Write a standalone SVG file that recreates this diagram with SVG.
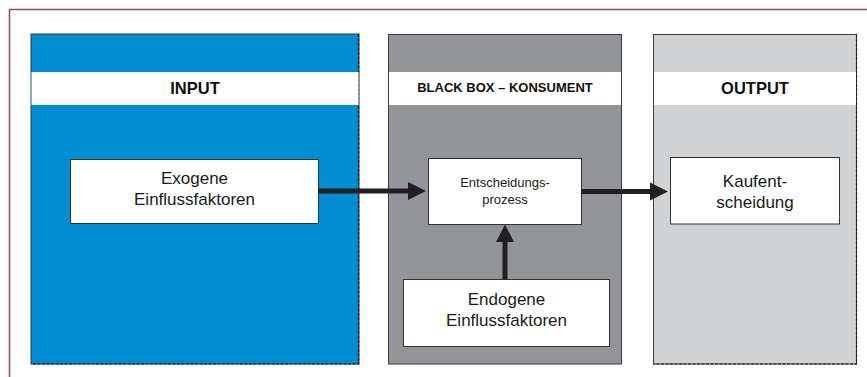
<svg xmlns="http://www.w3.org/2000/svg" width="867" height="377" viewBox="0 0 867 377">
<style>
.frame{fill:none;stroke:#9d4468;stroke-width:1.5}
.panel{stroke:#3a3a3a;stroke-width:1}
.dash{fill:none;stroke:#1a1a1a;stroke-width:1.2;stroke-dasharray:3 1.5}
.band{fill:#ffffff}
.hdr{font-family:"Liberation Sans",Arial,sans-serif;font-weight:bold;fill:#111;text-anchor:middle}
.box{fill:#ffffff;stroke:#333;stroke-width:1}
.lbl{font-family:"Liberation Sans",Arial,sans-serif;fill:#1a1a1a;text-anchor:middle}
.conn{stroke:#231f20;stroke-width:5;fill:none}
.head{fill:#231f20}
</style>
<rect width="867" height="377" fill="#ffffff"/>
<path class="frame" d="M867,9.5 H9.5 V377"/>

<g id="panel-input">
<rect class="panel" x="31" y="34" width="328" height="330" fill="#008dd2"/>
<path class="dash" d="M358.5,34 V364 H31"/>
<rect class="band" x="31.5" y="72" width="327" height="33"/>
<text class="hdr" x="195" y="94" font-size="16.5">INPUT</text>
</g>

<g id="panel-blackbox">
<rect class="panel" x="388.5" y="34.5" width="233" height="329.5" fill="#939598" stroke="#444"/>
<rect class="band" x="389" y="72" width="232" height="33"/>
<text class="hdr" x="505" y="92" font-size="13">BLACK BOX – KONSUMENT</text>
</g>

<g id="panel-output">
<rect class="panel" x="653.5" y="34.5" width="203" height="329.5" fill="#d1d2d4" stroke="#222"/>
<path class="dash" d="M856.5,34.5 V364 H653.5"/>
<rect class="band" x="654" y="72" width="202" height="33"/>
<text class="hdr" x="755" y="94" font-size="16.5">OUTPUT</text>
</g>

<g id="node-exogene">
<rect class="box" x="70.5" y="159.5" width="248" height="64"/>
<text class="lbl" x="194.5" y="183.5" font-size="17">Exogene</text>
<text class="lbl" x="194.5" y="204.5" font-size="17">Einflussfaktoren</text>
</g>

<g id="node-entscheidung">
<rect class="box" x="428.5" y="158.5" width="153" height="66"/>
<text class="lbl" x="505" y="187" font-size="13">Entscheidungs-</text>
<text class="lbl" x="505" y="204" font-size="13">prozess</text>
</g>

<g id="node-kauf">
<rect class="box" x="670.5" y="157.5" width="169" height="66.5"/>
<text class="lbl" x="755" y="187" font-size="17">Kaufent-</text>
<text class="lbl" x="755" y="208" font-size="17">scheidung</text>
</g>

<g id="node-endogene">
<rect class="box" x="403.5" y="279.5" width="206" height="67"/>
<text class="lbl" x="506.5" y="305" font-size="17">Endogene</text>
<text class="lbl" x="506.5" y="326" font-size="17">Einflussfaktoren</text>
</g>

<g id="connectors">
<line class="conn" x1="318.5" y1="191" x2="409" y2="191"/>
<polygon class="head" points="408,182 426,191 408,200"/>
<line class="conn" x1="581.5" y1="191.5" x2="651" y2="191.5"/>
<polygon class="head" points="650,182.5 668,191.5 650,200.5"/>
<line class="conn" x1="505" y1="279.5" x2="505" y2="241"/>
<polygon class="head" points="496,242 505,224.5 514,242"/>
</g>
</svg>
